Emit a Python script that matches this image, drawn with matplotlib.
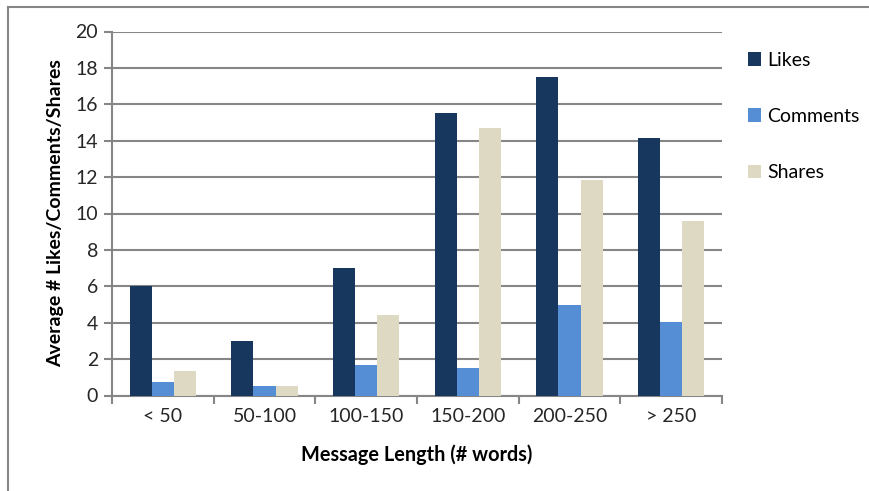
import matplotlib
matplotlib.use("Agg")
import matplotlib.pyplot as plt
from matplotlib.lines import Line2D
from matplotlib.patches import Patch
import numpy as np

categories = ["< 50", "50-100", "100-150", "150-200", "200-250", "> 250"]
likes = [6.0, 3.0, 7.0, 15.5, 17.5, 14.15]
comments = [0.73, 0.5, 1.67, 1.5, 4.95, 4.05]
shares = [1.35, 0.5, 4.43, 14.7, 11.85, 9.6]
yticks = [0, 2, 4, 6, 8, 10, 12, 14, 16, 18, 20]

colors = ["#17375E", "#558ED5", "#DDD9C3"]
names = ["Likes", "Comments", "Shares"]

plt.rcParams['font.family'] = ['Lato', 'DejaVu Sans']

W, H = 870, 491
fig = plt.figure(figsize=(W / 100, H / 100), dpi=100)
ax = fig.add_axes([112 / W, 1 - 395.5 / H, (722 - 112) / W, (395.5 - 31.5) / H])

x = np.arange(len(categories))
bw = 0.218
for i, (vals, c, n) in enumerate(zip([likes, comments, shares], colors, names)):
    ax.bar(x + (i - 1) * bw, vals, bw, color=c, label=n, zorder=3, linewidth=0)

ax.set_xlim(-0.5, len(categories) - 0.5)
ax.set_ylim(0, 20)
ax.set_yticks(yticks)
ax.set_yticklabels([str(t) for t in yticks], fontsize=14, color="#262626")
ax.set_xticks(x)
ax.set_xticklabels(categories, fontsize=14, color="#262626")
ax.set_xticks(np.arange(-0.5, len(categories)), minor=True)
ax.tick_params(axis='x', which='major', length=0, pad=9)
ax.tick_params(axis='x', which='minor', length=6, width=1.5, color="#868686", direction='out')
ax.tick_params(axis='y', length=6, width=1.5, color="#868686", pad=4)
ax.grid(axis='y', color="#868686", linewidth=1.5, zorder=0)
for s in ['top', 'right']:
    ax.spines[s].set_visible(False)
for s in ['left', 'bottom']:
    ax.spines[s].set_color("#868686")
    ax.spines[s].set_linewidth(1.5)

ax.set_xlabel("Message Length (# words)", fontsize=14.3, fontweight='bold', labelpad=14)
ax.set_ylabel("Average # Likes/Comments/Shares", fontsize=14, fontweight='bold', labelpad=8)

handles = [Patch(facecolor=c, edgecolor='none') for c in colors]
fig.legend(handles, names, loc='upper left', bbox_to_anchor=(740 / W, 1 - 44 / H),
           frameon=False, fontsize=14, labelspacing=2.02, handlelength=0.7,
           handleheight=0.7, handletextpad=0.3, borderaxespad=0)

# outer frame lines (top and left)
fig.add_artist(Line2D([8 / W, 1], [1 - 7 / H, 1 - 7 / H], color="#868686", lw=1.5, transform=fig.transFigure))
fig.add_artist(Line2D([8 / W, 8 / W], [0, 1 - 7 / H], color="#868686", lw=1.5, transform=fig.transFigure))

fig.savefig("out.png", dpi=100)
